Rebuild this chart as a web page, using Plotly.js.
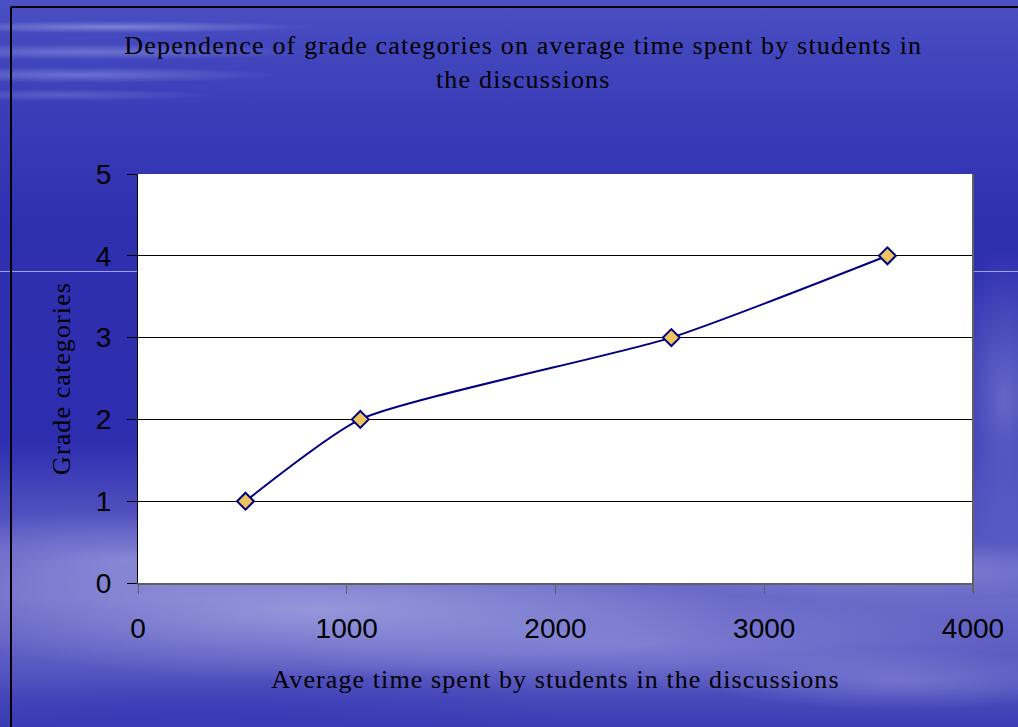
<!DOCTYPE html>
<html>
<head>
<meta charset="utf-8">
<script src="https://cdn.plot.ly/plotly-3.0.1.min.js"></script>
<style>
html,body{margin:0;padding:0;width:1018px;height:727px;overflow:hidden;}
body{
 background:
  radial-gradient(ellipse 200px 6px at 110px 27px, rgba(190,195,240,0.45), rgba(190,195,240,0) 100%),
  radial-gradient(ellipse 220px 8px at 90px 52px, rgba(190,195,240,0.35), rgba(190,195,240,0) 100%),
  radial-gradient(ellipse 200px 8px at 80px 75px, rgba(190,195,240,0.35), rgba(190,195,240,0) 100%),
  radial-gradient(ellipse 160px 6px at 60px 95px, rgba(180,185,235,0.25), rgba(180,185,235,0) 100%),
  radial-gradient(ellipse 420px 70px at 320px 610px, rgba(170,170,228,0.7), rgba(170,170,228,0) 100%),
  radial-gradient(ellipse 260px 50px at 120px 560px, rgba(150,150,220,0.65), rgba(150,150,220,0) 100%),
  radial-gradient(ellipse 360px 50px at 640px 645px, rgba(150,150,222,0.55), rgba(150,150,222,0) 100%),
  radial-gradient(ellipse 250px 30px at 880px 570px, rgba(160,160,225,0.55), rgba(160,160,225,0) 100%),
  radial-gradient(ellipse 60px 150px at 1005px 400px, rgba(140,140,215,0.6), rgba(140,140,215,0) 100%),
  radial-gradient(ellipse 200px 30px at 900px 680px, rgba(150,150,220,0.5), rgba(150,150,220,0) 100%),
  radial-gradient(ellipse 380px 40px at 200px 715px, rgba(55,55,180,0.7), rgba(55,55,180,0) 100%),
  linear-gradient(to bottom, #4a4fc2 0px, #3a3db8 110px, #2f30b0 220px, #2d2daf 440px, #4a4abd 500px, #6a6ac8 600px, #5a5ac2 660px, #3c3cb4 727px);
}
#chart{width:1018px;height:727px;}
.hl{position:absolute;top:271px;height:1px;background:rgba(190,190,240,0.8);}
.gtitle{letter-spacing:1.2px;}
.xtitle,.ytitle{letter-spacing:1.1px;}
</style>
</head>
<body>
<div class="hl" style="left:0;width:138px"></div>
<div class="hl" style="left:973px;width:45px"></div>
<div id="chart" style="position:absolute;left:0;top:0"></div>
<script>
var timeSpent = [515, 1065, 2555, 3590];
var gradeCategory = [1, 2, 3, 4];
var xTicks = [0, 1000, 2000, 3000, 4000];
var yTicks = [0, 1, 2, 3, 4, 5];

var trace = {
  x: timeSpent,
  y: gradeCategory,
  type: 'scatter',
  mode: 'lines+markers',
  line: {color: '#000080', width: 2, shape: 'spline', smoothing: 0.55},
  marker: {symbol: 'diamond', size: 13, color: '#f0c45c', line: {color: '#000080', width: 2}},
  hoverinfo: 'none',
  showlegend: false
};

var serif = 'Liberation Serif, Times New Roman, serif';
var sans = 'Liberation Sans, Arial, sans-serif';
var PL = 138, PT = 174, PW = 835, PH = 409;
function px(x){ return (x - PL) / PW; }
function py(y){ return (PT + PH - y) / PH; }

var layout = {
  width: 1018, height: 727,
  paper_bgcolor: 'rgba(0,0,0,0)',
  plot_bgcolor: '#ffffff',
  margin: {l: 138, r: 45, t: 174, b: 144},
  title: {
    text: 'Dependence of grade categories on average time spent by students in<br>the discussions',
    font: {family: serif, size: 26, color: '#000000'},
    x: 0.514, xanchor: 'center', yref: 'container', y: 1 - 54/727, yanchor: 'middle'
  },
  xaxis: {
    range: [0, 4000], tickvals: xTicks, ticktext: xTicks.map(String),
    showgrid: false, zeroline: false,
    showline: true, linecolor: '#606060', linewidth: 2,
    ticks: 'outside', ticklen: 9, tickcolor: '#606060', tickwidth: 1,
    tickfont: {family: sans, size: 28, color: '#000000'},
    ticklabelstandoff: 10,
    title: {text: 'Average time spent by students in the discussions', font: {family: serif, size: 26, color: '#000000'}, standoff: 27}
  },
  yaxis: {
    range: [0, 5], tickvals: yTicks, ticktext: yTicks.map(String),
    showgrid: true, gridcolor: '#000000', gridwidth: 1, zeroline: false,
    showline: true, linecolor: '#000000', linewidth: 1,
    ticks: 'outside', ticklen: 10, tickcolor: '#000000', tickwidth: 1,
    tickfont: {family: sans, size: 28, color: '#000000'},
    ticklabelstandoff: 10,
    title: {text: 'Grade categories', font: {family: serif, size: 26, color: '#000000'}, standoff: 17}
  },
  shapes: [
    {type: 'line', xref: 'paper', yref: 'paper', x0: 1, x1: 1, y0: -9/409, y1: 1, line: {color: '#606060', width: 2}},
    {type: 'line', xref: 'paper', yref: 'paper', x0: px(11), x1: px(11), y0: py(727), y1: py(7), line: {color: '#000000', width: 2}},
    {type: 'line', xref: 'paper', yref: 'paper', x0: px(11), x1: px(1018), y0: py(7), y1: py(7), line: {color: '#000000', width: 2}}
  ]
};

Plotly.newPlot('chart', [trace], layout, {displayModeBar: false, staticPlot: true});
</script>
</body>
</html>
